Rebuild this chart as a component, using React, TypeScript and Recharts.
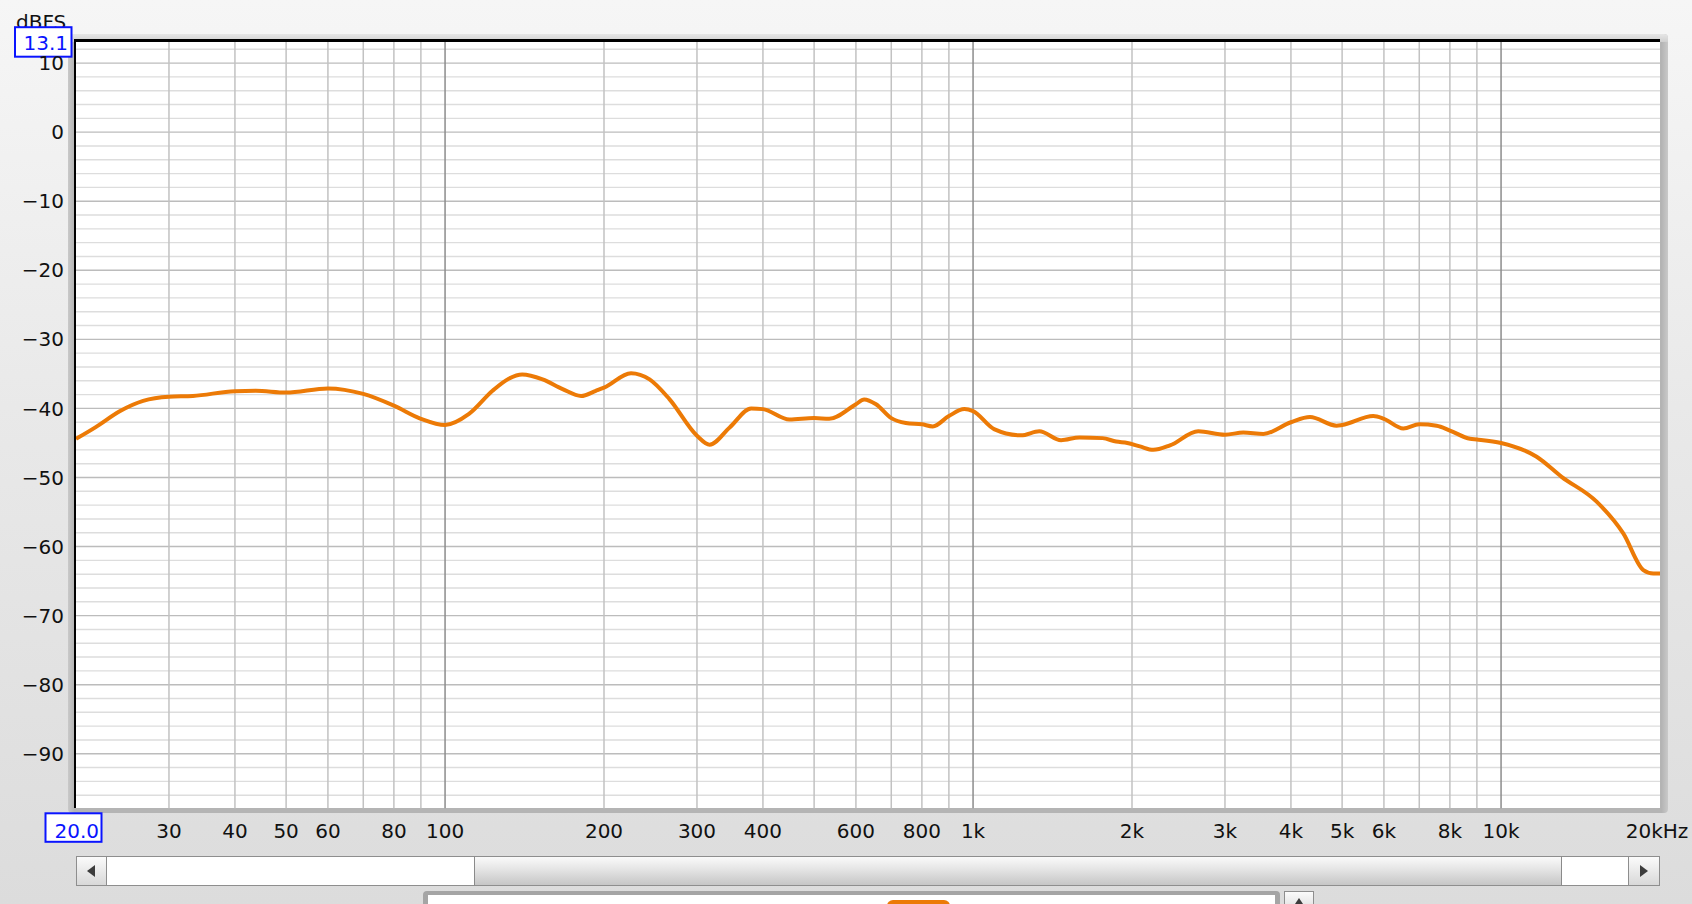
import React from 'react';
import { LineChart, Line, XAxis, YAxis, ReferenceLine } from 'recharts';

// Frequency (Hz) sample points and measured level (dBFS)
const FREQS = [
  20, 21.8, 24.2, 26.8, 30, 33.3, 40, 43.8, 50, 60, 70, 80, 90, 100,
  111, 123, 132, 140, 153, 167, 181, 193, 200, 225, 244, 266, 300, 317,
  346, 380, 400, 449, 500, 534, 600, 622, 655, 700, 746, 800, 839, 900,
  963, 1000, 1096, 1233, 1335, 1468, 1590, 1759, 1866, 1960, 2070, 2195,
  2360, 2670, 3000, 3250, 3547, 4000, 4346, 4882, 5000, 5728, 6000, 6530,
  7000, 7552, 8000, 8736, 9000, 10000, 11680, 13020, 15170, 17040, 18600,
  19430, 20000,
];
const LEVELS = [
  -44.4, -42.7, -40.4, -38.9, -38.3, -38.2, -37.5, -37.45, -37.7, -37.1, -37.9, -39.6, -41.5, -42.4,
  -40.8, -37.45, -35.7, -35.1, -35.8, -37.2, -38.2, -37.45, -37.0, -34.9, -35.8, -38.65, -43.95, -45.25,
  -42.75, -40.0, -40.1, -41.6, -41.4, -41.5, -39.4, -38.7, -39.4, -41.4, -42.1, -42.3, -42.6, -41.1,
  -40.1, -40.4, -43.0, -43.9, -43.3, -44.6, -44.2, -44.3, -44.8, -45.0, -45.5, -46.0,
  -45.35, -43.3, -43.8, -43.5, -43.7, -42.0, -41.25, -42.5, -42.4, -41.1, -41.5, -42.9,
  -42.3, -42.5, -43.2, -44.4, -44.5, -45.0, -47.0, -49.9, -53.5, -58.1, -63.4,
  -63.9, -63.9,
];

const X_TICKS = [20, 30, 40, 50, 60, 80, 100, 200, 300, 400, 600, 800, 1000, 2000, 3000, 4000, 5000, 6000, 8000, 10000, 20000];
const Y_TICKS = [13.1, 10, 0, -10, -20, -30, -40, -50, -60, -70, -80, -90];
const X_DOMAIN = [20, 20000];
const Y_DOMAIN = [-97.9, 13.1];

const MINOR_X = [30, 40, 50, 60, 70, 80, 90, 200, 300, 400, 500, 600, 700, 800, 900, 2000, 3000, 4000, 5000, 6000, 7000, 8000, 9000];
const DECADE_X = [100, 1000, 10000];
const MAJOR_Y = [10, 0, -10, -20, -30, -40, -50, -60, -70, -80, -90];
const MINOR_Y = [12, 8, 6, 4, 2, -2, -4, -6, -8, -12, -14, -16, -18, -22, -24, -26, -28, -32, -34, -36, -38,
  -42, -44, -46, -48, -52, -54, -56, -58, -62, -64, -66, -68, -72, -74, -76, -78, -82, -84, -86, -88, -92, -94, -96];

const data = FREQS.map((f, i) => ({ f, db: LEVELS[i] }));

const FONT = '"DejaVu Sans", "Lucida Grande", sans-serif';
const BLUE = '#0a14ff';

function fmtX(v: number): string {
  if (v === 20000) return '20kHz';
  if (v >= 1000) return `${v / 1000}k`;
  return String(v);
}

function XTick(props: any) {
  const { x, y, payload } = props;
  const v = payload.value;
  const base = y + 14.2;
  if (v === 20) {
    return (
      <g>
        <rect x={x - 30.5} y={y - 10} width={56} height={28.5} fill="#ffffff" stroke={BLUE} strokeWidth={2} />
        <text x={x + 23} y={base} textAnchor="end" fontFamily={FONT} fontSize={20} fill={BLUE}>20.0</text>
      </g>
    );
  }
  const dx = v === 20000 ? -3 : 0;
  return (
    <text x={x + dx} y={base} textAnchor="middle" fontFamily={FONT} fontSize={20} fill="#111">{fmtX(v)}</text>
  );
}

function YTick(props: any) {
  const { x, y, payload } = props;
  const v = payload.value;
  if (v === 13.1) {
    return (
      <g>
        <rect x={15} y={y - 14.5} width={56.5} height={29.5} fill="#ffffff" stroke={BLUE} strokeWidth={2} />
        <text x={68} y={y + 8} textAnchor="end" fontFamily={FONT} fontSize={20} fill={BLUE}>13.1</text>
      </g>
    );
  }
  const label = v < 0 ? `\u2212${Math.abs(v)}` : String(v);
  return (
    <text x={x} y={y + 7.1} textAnchor="end" fontFamily={FONT} fontSize={20} fill="#111">{label}</text>
  );
}

const PL = 76, PT = 41.7, PR = 1660, PB = 808.3;

export default function App() {
  return (
    <div style={{ position: 'absolute', left: 0, top: 0, width: 1692, height: 904, overflow: 'hidden',
      background: 'linear-gradient(#f6f6f6, #e9e9e9 45%, #dcdcdc)' }}>
      {/* dBFS unit label */}
      <div style={{ position: 'absolute', left: 16, top: 10, fontFamily: FONT, fontSize: 20, color: '#111', lineHeight: '24px' }}>dBFS</div>
      {/* plot frame shadow */}
      <div style={{ position: 'absolute', left: PL - 8, top: PT - 8, width: PR - PL + 16, height: PB - PT + 13,
        background: 'linear-gradient(90deg, #c9c9c9, #b4b4b4 0.4%, #b4b4b4 99.6%, #c9c9c9)', borderRadius: 4 }} />
      <div style={{ position: 'absolute', left: PL - 8, top: PT - 8, width: PR - PL + 16, height: 8,
        background: 'linear-gradient(#e6e6e6, #cfcfcf)', borderRadius: '4px 4px 0 0' }} />
      <div style={{ position: 'absolute', left: PL, top: PT, width: PR - PL, height: PB - PT, background: '#ffffff' }} />
      <div style={{ position: 'absolute', left: 0, top: 0 }}>
        <LineChart width={1692} height={904} data={data} margin={{ top: PT, right: 1692 - PR, bottom: 0, left: 0 }}>
          <XAxis dataKey="f" type="number" scale="log" domain={X_DOMAIN} ticks={X_TICKS} allowDataOverflow
            height={904 - PB} axisLine={false} tickLine={false} tickSize={0} tickMargin={15} tick={<XTick />} interval={0} />
          <YAxis type="number" domain={Y_DOMAIN} ticks={Y_TICKS} allowDataOverflow width={PL}
            axisLine={false} tickLine={false} tickSize={0} tickMargin={12} tick={<YTick />} interval={0} />
          {MINOR_Y.map((v) => (
            <ReferenceLine key={`my${v}`} y={v} stroke="#dddddd" strokeWidth={1.4} />
          ))}
          {MAJOR_Y.map((v) => (
            <ReferenceLine key={`My${v}`} y={v} stroke="#bcbcbc" strokeWidth={1.4} />
          ))}
          {MINOR_X.map((v) => (
            <ReferenceLine key={`mx${v}`} x={v} stroke="#c2c2c2" strokeWidth={1.5} />
          ))}
          {DECADE_X.map((v) => (
            <ReferenceLine key={`Mx${v}`} x={v} stroke="#8c8c8c" strokeWidth={1.5} />
          ))}
          <Line type="monotone" dataKey="db" stroke="#ec7a06" strokeWidth={4} dot={false} isAnimationActive={false} />
        </LineChart>
      </div>
      {/* black frame lines top & left */}
      <div style={{ position: 'absolute', left: PL - 2.5, top: PT - 2.5, width: PR - PL + 2.5, height: 2.7, background: '#000' }} />
      <div style={{ position: 'absolute', left: PL - 2.5, top: PT - 2.5, width: 2.7, height: PB - PT + 2.5, background: '#000' }} />
      {/* scrollbar */}
      <div style={{ position: 'absolute', left: 76, top: 856, width: 1584, height: 30, background: '#ffffff',
        border: '1px solid #8e8e8e', boxSizing: 'border-box' }} />
      <div style={{ position: 'absolute', left: 76, top: 856, width: 31, height: 30, boxSizing: 'border-box',
        border: '1px solid #8e8e8e', background: 'linear-gradient(#fbfbfb, #d8d8d8)' }} />
      <div style={{ position: 'absolute', left: 87, top: 865, width: 0, height: 0, borderTop: '6px solid transparent',
        borderBottom: '6px solid transparent', borderRight: '8px solid #3c3c3c' }} />
      <div style={{ position: 'absolute', left: 474, top: 856, width: 1088, height: 30, boxSizing: 'border-box',
        borderLeft: '1px solid #8a8a8a', borderRight: '1px solid #8a8a8a', borderTop: '1px solid #8e8e8e', borderBottom: '1px solid #8e8e8e',
        background: 'linear-gradient(#fafafa, #e4e4e4 45%, #c6c6c6)' }} />
      <div style={{ position: 'absolute', left: 1628, top: 856, width: 32, height: 30, boxSizing: 'border-box',
        border: '1px solid #8e8e8e', background: 'linear-gradient(#fbfbfb, #d8d8d8)' }} />
      <div style={{ position: 'absolute', left: 1640, top: 865, width: 0, height: 0, borderTop: '6px solid transparent',
        borderBottom: '6px solid transparent', borderLeft: '8px solid #3c3c3c' }} />
      {/* lower panel */}
      <div style={{ position: 'absolute', left: 423, top: 891, width: 857, height: 20, background: '#a5a5a5', borderRadius: 4 }} />
      <div style={{ position: 'absolute', left: 428, top: 895, width: 847, height: 20, background: '#ffffff' }} />
      <div style={{ position: 'absolute', left: 887, top: 900, width: 63, height: 12, background: '#ec7a06', borderRadius: 6 }} />
      <div style={{ position: 'absolute', left: 1284, top: 891, width: 30, height: 20, boxSizing: 'border-box',
        border: '1px solid #8e8e8e', background: 'linear-gradient(#fbfbfb, #dedede)' }} />
      <div style={{ position: 'absolute', left: 1295, top: 898, width: 0, height: 0, borderLeft: '4px solid transparent',
        borderRight: '4px solid transparent', borderBottom: '6px solid #3c3c3c' }} />
    </div>
  );
}
